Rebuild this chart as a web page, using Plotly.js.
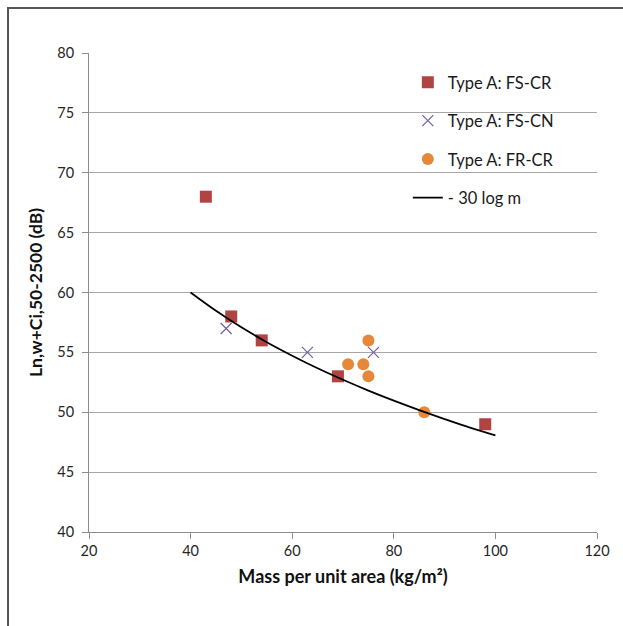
<!DOCTYPE html>
<html><head><meta charset="utf-8">
<script src="https://cdn.plot.ly/plotly-3.0.1.min.js"></script>
<style>html,body{margin:0;padding:0;background:#fff;}#chart{width:623px;height:626px;}</style>
</head><body><div id="chart"></div>
<script>
// FS-CR (squares)
const fscrMass = [43, 48, 54, 69, 98];
const fscrLn   = [68, 58, 56, 53, 49];
// FS-CN (crosses)
const fscnMass = [47, 63, 76];
const fscnLn   = [57, 55, 55];
// FR-CR (circles)
const frcrMass = [71, 74, 75, 75, 86];
const frcrLn   = [54, 54, 56, 53, 50];
// -30 log m reference curve
const refMass = [40, 45, 50, 55, 60, 65, 70, 75, 80, 85, 90, 95, 100];
const refLn   = [60, 58.47, 57.09, 55.85, 54.72, 53.67, 52.71, 51.81, 50.97, 50.18, 49.43, 48.71, 48.06];

const xTicks = [20, 40, 60, 80, 100, 120];
const yTicks = [40, 45, 50, 55, 60, 65, 70, 75, 80];

const FONT = 'Lato, "Open Sans", sans-serif';

const traces = [
  {x: fscrMass, y: fscrLn, type: 'scatter', mode: 'markers', name: 'Type A: FS-CR', legendgroup: 'a',
   marker: {symbol: 'square', size: 12, color: '#B04442'}},
  {x: fscnMass, y: fscnLn, type: 'scatter', mode: 'markers', name: 'Type A: FS-CN', legendgroup: 'b',
   marker: {symbol: 'x-thin', size: 11, color: '#7A63A0', line: {color: '#7A63A0', width: 1.3}}},
  {x: frcrMass, y: frcrLn, type: 'scatter', mode: 'markers', name: 'Type A: FR-CR', legendgroup: 'c',
   marker: {symbol: 'circle', size: 12, color: '#E5883A'}},
  {x: refMass, y: refLn, type: 'scatter', mode: 'lines', name: '- 30 log m', legendgroup: 'd',
   line: {color: '#000000', width: 1.8, shape: 'spline'}}
];

const layout = {
  width: 623, height: 626,
  margin: {l: 89, r: 26, t: 53, b: 94},
  paper_bgcolor: '#ffffff', plot_bgcolor: '#ffffff',
  font: {family: FONT, color: '#262626', size: 14},
  showlegend: true,
  legend: {x: 0.6276, y: 0.975, xanchor: 'left', yanchor: 'top', bgcolor: 'rgba(0,0,0,0)',
    font: {family: FONT, size: 16.5, color: '#1a1a1a'}, tracegroupgap: 14, traceorder: 'grouped'},
  xaxis: {range: [20, 120], tickvals: xTicks, ticktext: xTicks.map(String),
    showgrid: false, zeroline: false, showline: true, linecolor: '#8c8c8c', linewidth: 1,
    ticks: 'outside', ticklen: 6, tickcolor: '#8c8c8c',
    tickfont: {family: FONT, size: 14.5, color: '#262626'},
    title: {text: 'Mass per unit area (kg/m²)', font: {family: FONT, size: 18, color: '#111', weight: 'bold'}, standoff: 11}},
  yaxis: {range: [40, 80], tickvals: yTicks, ticktext: yTicks.map(String),
    showgrid: true, gridcolor: '#a6a6a6', gridwidth: 1, zeroline: false,
    showline: true, linecolor: '#8c8c8c', linewidth: 1,
    ticks: 'outside', ticklen: 6, tickcolor: '#8c8c8c', ticklabelstandoff: 5,
    tickfont: {family: FONT, size: 14.5, color: '#262626'},
    title: {text: 'Ln,w+Ci,50-2500 (dB)', font: {family: FONT, size: 17.5, color: '#111', weight: 'bold'}, standoff: 10}},
  shapes: [
    {type: 'rect', xref: 'paper', yref: 'paper', x0: -0.1594, x1: 2, y0: -2, y1: 1.0939,
     line: {color: '#555555', width: 2}, fillcolor: 'rgba(0,0,0,0)', layer: 'below'}
  ]
};

Plotly.newPlot('chart', traces, layout, {displayModeBar: false, staticPlot: true});
</script></body></html>
